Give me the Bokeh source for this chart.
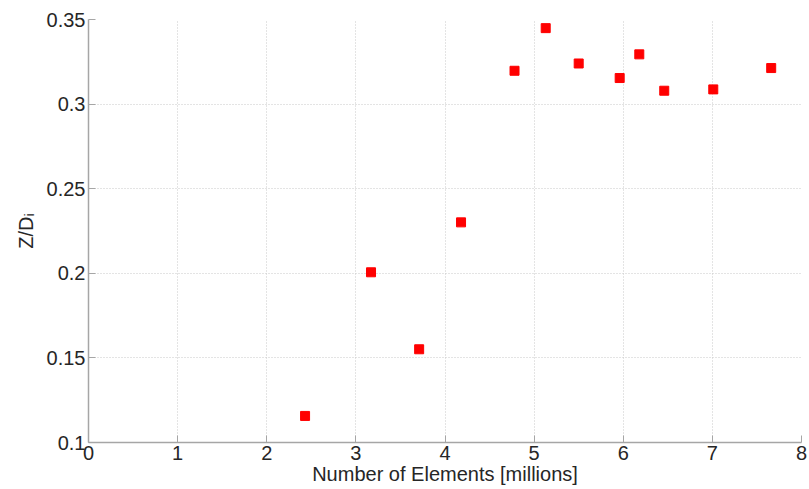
from bokeh.plotting import figure
from bokeh.models import FixedTicker, Range1d
from bokeh.embed import file_html
from bokeh.resources import INLINE

# data
elements_millions = [2.43, 3.17, 3.71, 4.18, 4.78, 5.13, 5.50, 5.96, 6.18, 6.46, 7.01, 7.66]
z_over_di = [0.1157, 0.2006, 0.1551, 0.2301, 0.3197, 0.3449, 0.3240, 0.3154, 0.3294, 0.3079, 0.3087, 0.3213]

x_ticks = [0, 1, 2, 3, 4, 5, 6, 7, 8]
x_tick_labels = ["0", "1", "2", "3", "4", "5", "6", "7", "8"]
y_ticks = [0.1, 0.15, 0.2, 0.25, 0.3, 0.35]
y_tick_labels = ["0.1", "0.15", "0.2", "0.25", "0.3", "0.35"]

FONT = "Liberation Sans"
AXIS_GRAY = "#a6a6a6"
TEXT = "#262626"

p = figure(width=809, height=489, output_backend="svg", toolbar_location=None,
           x_range=Range1d(0, 8), y_range=Range1d(0.1, 0.35),
           min_border_left=88, min_border_right=8, min_border_top=19, min_border_bottom=47)
p.outline_line_color = None
p.background_fill_color = "white"
p.border_fill_color = "white"

p.scatter(elements_millions, z_over_di, marker="square", size=9,
          fill_color="#ff0000", line_color="#ff0000")

p.xaxis.ticker = FixedTicker(ticks=x_ticks)
p.xaxis.major_label_overrides = {t: l for t, l in zip(x_ticks, x_tick_labels)}
p.yaxis.ticker = FixedTicker(ticks=y_ticks)
p.yaxis.major_label_overrides = {t: l for t, l in zip(y_ticks, y_tick_labels)}

p.xaxis.axis_label = "Number of Elements [millions]"
p.yaxis.axis_label = "Z/D\u1d62"

for ax in (p.xaxis, p.yaxis):
    ax.axis_line_color = AXIS_GRAY
    ax.axis_line_width = 1.5
    ax.major_tick_line_color = AXIS_GRAY
    ax.major_tick_in = 7
    ax.major_tick_out = 0
    ax.minor_tick_line_color = None
    ax.major_label_text_font = FONT
    ax.major_label_text_font_size = "20px"
    ax.major_label_text_color = TEXT
    ax.axis_label_text_font = FONT
    ax.axis_label_text_font_size = "20px"
    ax.axis_label_text_font_style = "normal"
    ax.axis_label_text_color = TEXT

p.xaxis.major_label_standoff = 3
p.xaxis.axis_label_standoff = 0
p.yaxis.major_label_standoff = 3
p.yaxis.axis_label_standoff = 7

for g in (p.xgrid, p.ygrid):
    g.grid_line_color = "#c8c8c8"
    g.grid_line_dash = "1 2"
    g.grid_line_width = 1

open("out.html", "w").write(file_html(p, INLINE))
